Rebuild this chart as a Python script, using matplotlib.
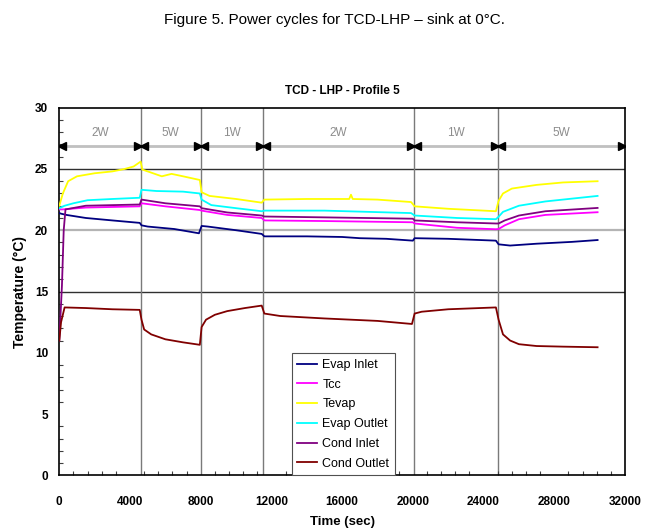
import numpy as np
import matplotlib
matplotlib.use("Agg")
import matplotlib.pyplot as plt
from matplotlib.ticker import MultipleLocator

plt.rcParams['font.family'] = ['Liberation Sans', 'DejaVu Sans']

# power steps: start/end times (s) and level labels
edges = [0, 4600, 8000, 11500, 20050, 24800, 32000]
powers = ['2W', '5W', '1W', '2W', '1W', '5W']

# Evap Inlet
t_ei = [0, 100, 400, 1500, 3000, 4550, 4650, 5000, 6500, 7900, 8050, 8400, 10000, 11450,
        11600, 12500, 14000, 16000, 17000, 18500, 20000, 20100, 22000, 24700, 24850,
        25500, 27000, 29000, 30450]
v_ei = [21.4, 21.35, 21.25, 21.0, 20.8, 20.6, 20.4, 20.3, 20.1, 19.75, 20.35, 20.3, 20.0, 19.7,
        19.5, 19.5, 19.5, 19.45, 19.35, 19.3, 19.15, 19.35, 19.3, 19.15, 18.85,
        18.75, 18.9, 19.05, 19.2]

# Tcc
t_tcc = [0, 200, 1500, 4550, 4650, 6000, 7950, 8050, 9500, 11450, 11600, 15000, 20000,
         20100, 22500, 24700, 24850, 25200, 26000, 27500, 30450]
v_tcc = [21.7, 21.7, 21.85, 21.95, 22.2, 21.95, 21.65, 21.6, 21.25, 21.0, 20.8, 20.75, 20.65,
         20.55, 20.2, 20.08, 20.1, 20.4, 20.9, 21.25, 21.47]

# Tevap
t_tev = [0, 200, 500, 1000, 2000, 3000, 3700, 4200, 4600, 4700, 5200, 5800, 6350, 7000, 7950,
         8050, 8500, 10000, 11450, 11600, 14000, 16400, 16500, 16600, 18000, 19900, 20100,
         22000, 24700, 24850, 25100, 25600, 27000, 28500, 30450]
v_tev = [22.0, 23.0, 24.0, 24.4, 24.65, 24.8, 25.0, 25.2, 25.6, 24.95, 24.7, 24.4, 24.6, 24.4, 24.1,
         23.1, 22.8, 22.55, 22.25, 22.5, 22.55, 22.55, 22.9, 22.55, 22.5, 22.3, 21.95,
         21.75, 21.55, 22.4, 23.0, 23.4, 23.7, 23.9, 24.0]

# Evap Outlet
t_eo = [0, 300, 800, 1600, 3000, 4550, 4650, 5500, 7000, 7950, 8050, 8600, 10000, 11450,
        11600, 15000, 19900, 20100, 22500, 24700, 24850, 25100, 26000, 27500, 30450]
v_eo = [21.8, 22.0, 22.2, 22.45, 22.55, 22.65, 23.3, 23.2, 23.15, 23.0, 22.5, 22.05, 21.8, 21.55,
        21.6, 21.6, 21.4, 21.2, 21.0, 20.9, 21.1, 21.5, 22.0, 22.35, 22.8]

# Cond Inlet
t_ci = [0, 150, 250, 350, 1500, 4550, 4650, 6000, 7950, 8050, 9500, 11450, 11600, 15000,
        20000, 20100, 22500, 24700, 24850, 25200, 26000, 27500, 30450]
v_ci = [11.0, 15.5, 20.0, 21.7, 22.0, 22.1, 22.5, 22.2, 21.95, 21.8, 21.45, 21.2, 21.12, 21.05,
        20.94, 20.8, 20.65, 20.55, 20.55, 20.8, 21.2, 21.55, 21.82]

# Cond Outlet
t_co = [0, 100, 300, 1500, 3000, 4550, 4650, 4800, 5200, 6000, 7000, 7950, 8050, 8300, 8800,
        9500, 10500, 11450, 11600, 12500, 15000, 18000, 19950, 20100, 20500, 22000, 24700,
        24850, 25100, 25500, 26000, 27000, 28500, 30450]
v_co = [11.0, 12.5, 13.7, 13.65, 13.55, 13.5, 12.7, 11.9, 11.5, 11.1, 10.85, 10.65, 12.1, 12.7, 13.1,
        13.4, 13.65, 13.85, 13.2, 13.0, 12.8, 12.6, 12.35, 13.2, 13.35, 13.55, 13.7,
        12.7, 11.5, 11.0, 10.7, 10.55, 10.5, 10.45]

series = [
    ('Evap Inlet', t_ei, v_ei, '#000080'),
    ('Tcc', t_tcc, v_tcc, '#ff00ff'),
    ('Tevap', t_tev, v_tev, '#ffff00'),
    ('Evap Outlet', t_eo, v_eo, '#00ffff'),
    ('Cond Inlet', t_ci, v_ci, '#800080'),
    ('Cond Outlet', t_co, v_co, '#800000'),
]

fig = plt.figure(figsize=(6.67, 5.30), dpi=100)
fig.text(0.502, 0.962, 'Figure 5. Power cycles for TCD-LHP \u2013 sink at 0\u00b0C.',
         ha='center', va='center', fontsize=11)

ax = fig.add_axes([0.0889, 0.1032, 0.8481, 0.6936])

# grid lines and step boundaries
ax.axhline(25, color='#303030', lw=1, zorder=1)
ax.axhline(15, color='#303030', lw=1, zorder=1)
ax.axhline(20, color='#b4b4b4', lw=1.6, zorder=1)
for b in edges[1:-1]:
    ax.axvline(b, color='#7a7a7a', lw=1, zorder=1)

# power level arrows
arrow_y = 26.9
ax.hlines(arrow_y, edges[0], edges[-1], color='#c0c0c0', lw=2, zorder=2)
for a, b, p in zip(edges[:-1], edges[1:], powers):
    ax.plot([a + 170], [arrow_y], marker='<', ms=5.5, color='black', zorder=3)
    ax.plot([b - 170], [arrow_y], marker='>', ms=5.5, color='black', zorder=3)
    ax.text((a + b) / 2, 27.95, p, ha='center', va='center', fontsize=8.5, color='#8c8c8c')

for name, t, v, c in series:
    ax.plot(t, v, color=c, lw=1.3, label=name, zorder=4)

ax.set_xlim(0, 32000)
ax.set_ylim(0, 30)
ax.xaxis.set_major_locator(MultipleLocator(4000))
ax.xaxis.set_minor_locator(MultipleLocator(800))
ax.yaxis.set_major_locator(MultipleLocator(5))
ax.yaxis.set_minor_locator(MultipleLocator(1))
ax.tick_params(which='both', direction='in', top=False, right=False)
ax.tick_params(which='major', length=0, labelsize=8.5)
ax.tick_params(which='minor', length=3, width=0.8, color='#404040')
ax.tick_params(axis='x', pad=15)
ax.tick_params(axis='y', pad=8)
for lab in ax.get_xticklabels() + ax.get_yticklabels():
    lab.set_fontweight('bold')
for s in ax.spines.values():
    s.set_linewidth(1.2)

ax.set_title('TCD - LHP - Profile 5', fontsize=8.5, fontweight='bold', pad=10)
ax.set_xlabel('Time (sec)', fontsize=9.5, fontweight='bold', labelpad=6)
ax.set_ylabel('Temperature (\u00b0C)', fontsize=10, fontweight='bold', labelpad=6)

leg = ax.legend(loc='lower left', bbox_to_anchor=(0.411, 0.0), borderaxespad=0,
                fancybox=False, fontsize=9, labelspacing=0.62, handlelength=1.6,
                handletextpad=0.4, borderpad=0.45, framealpha=1)
leg.get_frame().set_edgecolor('#505050')
leg.get_frame().set_linewidth(0.8)
leg.set_zorder(6)

fig.savefig('out.png', dpi=100)
